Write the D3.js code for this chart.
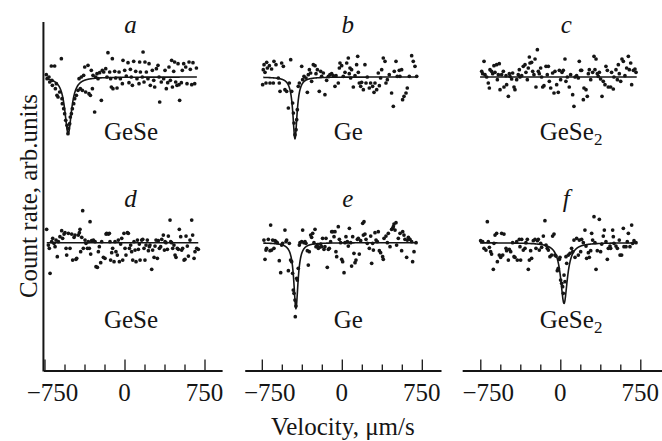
<!DOCTYPE html>
<html>
<head>
<meta charset="utf-8">
<script src="https://cdn.jsdelivr.net/npm/d3@7"></script>
<style>
  html, body { margin: 0; padding: 0; background: #fff; }
  svg text { font-family: "Liberation Serif", "Times New Roman", serif; fill: #151515; }
</style>
</head>
<body>
<div id="chart"></div>
<script>
// Spectra: [velocity (um/s), count rate (arb. units, fit baseline = 1000)]
const spectrumA = [[-733,1007],[-726,995],[-708,1000],[-701,985],[-686,1033],[-680,990],[-676,975],[-655,1033],[-648,965],[-639,980],[-633,945],[-623,940],[-608,955],[-592,1055],[-586,935],[-583,920],[-570,905],[-561,890],[-551,870],[-539,855],[-530,830],[-526,845],[-514,860],[-508,880],[-498,890],[-489,905],[-476,920],[-467,935],[-451,945],[-436,960],[-426,995],[-414,965],[-405,1000],[-395,960],[-383,1005],[-373,1030],[-364,955],[-342,1035],[-333,950],[-320,945],[-311,1020],[-301,965],[-295,1005],[-280,895],[-270,1000],[-258,1010],[-248,995],[-233,1013],[-217,930],[-208,1020],[-195,1015],[-176,1025],[-164,1000],[-155,1073],[-139,1015],[-130,995],[-123,970],[-114,1055],[-108,965],[-92,1017],[-83,997],[-70,967],[-51,1015],[-39,995],[-20,980],[-14,1050],[2,1020],[17,1003],[33,1043],[42,983],[55,1023],[64,1000],[74,975],[86,1047],[105,1017],[117,995],[136,980],[142,1045],[149,1015],[167,1000],[174,1075],[183,985],[192,1045],[205,1015],[220,995],[230,1040],[242,975],[261,1020],[274,990],[283,970],[299,1025],[314,1035],[324,1000],[330,925],[345,985],[367,995],[380,1020],[392,965],[405,983],[417,1030],[430,990],[442,1050],[449,970],[461,1017],[470,1045],[480,985],[492,975],[502,1040],[511,977],[517,930],[533,983],[542,1020],[555,1040],[574,1030],[586,980],[605,1045],[617,1023],[630,977],[642,1043],[658,980],[674,1027]];

const spectrumB = [[-742,977],[-736,1022],[-729,1037],[-720,1014],[-711,982],[-704,1044],[-698,1027],[-679,1034],[-673,982],[-658,1024],[-642,982],[-636,1047],[-617,1037],[-595,997],[-586,982],[-579,957],[-564,1042],[-548,1032],[-533,962],[-517,957],[-501,907],[-492,982],[-479,1052],[-470,957],[-461,922],[-454,892],[-448,862],[-439,827],[-429,842],[-423,872],[-417,902],[-408,972],[-398,982],[-376,1032],[-367,992],[-354,1002],[-336,997],[-323,954],[-314,1007],[-304,1022],[-292,1012],[-283,987],[-267,1037],[-251,1034],[-242,1010],[-229,1022],[-211,957],[-198,1017],[-189,1002],[-173,1012],[-158,947],[-142,990],[-126,1002],[-111,1007],[-95,1010],[-80,1004],[-64,972],[-54,1004],[-33,982],[-23,1027],[-17,1042],[-1,1034],[14,1002],[30,1014],[46,1042],[61,1057],[70,1010],[77,1027],[83,997],[92,1022],[108,970],[124,1004],[139,1037],[149,1062],[155,1014],[164,982],[177,972],[186,984],[202,962],[217,1037],[227,982],[239,1000],[258,967],[270,982],[289,972],[302,954],[311,982],[327,962],[342,1012],[352,974],[364,997],[374,1022],[389,1057],[405,1047],[414,982],[427,992],[445,1007],[467,952],[483,912],[492,1017],[508,1047],[520,1002],[539,1020],[545,1002],[561,1022],[570,932],[583,942],[602,952],[614,967],[633,1002],[655,1064],[670,1047],[686,1032],[702,1002]];

const spectrumC = [[-737,1017],[-728,1010],[-715,1047],[-706,1007],[-690,1000],[-675,982],[-665,967],[-659,1022],[-644,1017],[-634,1010],[-622,1034],[-612,1014],[-597,1037],[-590,992],[-581,1007],[-572,1040],[-565,962],[-550,1007],[-534,1017],[-528,970],[-509,1004],[-503,977],[-487,942],[-478,1010],[-472,1002],[-456,994],[-447,1012],[-434,970],[-425,962],[-409,992],[-394,1007],[-384,1022],[-378,1000],[-362,1004],[-347,1032],[-331,1037],[-322,1014],[-309,992],[-300,1027],[-290,1060],[-284,1042],[-269,1044],[-259,1017],[-247,1007],[-237,1054],[-228,970],[-215,1082],[-206,1017],[-197,1010],[-184,1027],[-175,1000],[-165,970],[-153,974],[-134,1032],[-122,1007],[-112,1032],[-103,987],[-90,967],[-72,1012],[-59,952],[-50,1017],[-34,977],[-19,954],[-9,1020],[3,992],[16,1014],[28,1020],[44,1054],[53,987],[66,1000],[84,970],[97,1007],[116,947],[128,912],[138,1000],[153,1004],[169,997],[178,1047],[191,1020],[200,1020],[216,932],[222,967],[241,962],[253,942],[263,1010],[272,1022],[285,992],[303,1014],[316,1062],[325,1022],[335,1054],[347,1010],[356,1002],[366,1014],[378,994],[391,942],[403,987],[419,977],[428,1032],[441,1020],[450,970],[472,970],[481,1014],[497,964],[503,1000],[522,1022],[535,992],[544,1037],[553,1010],[566,987],[578,1054],[591,1047],[606,1004],[622,1027],[638,1062],[647,1022],[660,1042],[669,977],[685,1020],[700,1024],[710,1014]];

const spectrumD = [[-730,1040],[-714,993],[-705,983],[-698,908],[-683,1003],[-673,1013],[-661,998],[-651,988],[-642,1008],[-630,958],[-620,1003],[-605,1018],[-589,1036],[-580,1013],[-567,1026],[-558,1030],[-548,983],[-542,963],[-526,1028],[-511,983],[-495,1026],[-486,948],[-473,1016],[-464,1023],[-455,950],[-448,953],[-433,1023],[-423,1030],[-417,1040],[-411,973],[-401,1016],[-392,1096],[-386,983],[-370,1008],[-361,998],[-348,983],[-339,1003],[-330,983],[-323,1063],[-317,966],[-308,1006],[-292,1008],[-276,1003],[-267,928],[-254,926],[-245,973],[-236,988],[-223,940],[-214,1003],[-198,956],[-183,953],[-173,1026],[-167,1028],[-151,1026],[-142,1028],[-136,1003],[-130,948],[-120,970],[-111,983],[-98,943],[-89,1003],[-80,973],[-67,963],[-58,1008],[-48,943],[-36,996],[-26,1013],[-17,948],[-5,1028],[5,983],[14,963],[27,1030],[36,1028],[46,983],[58,993],[67,973],[77,948],[89,1003],[99,978],[108,943],[121,1008],[130,980],[139,996],[146,948],[161,1008],[171,1010],[183,983],[192,948],[202,993],[214,1008],[224,976],[233,988],[239,993],[255,920],[264,978],[277,956],[286,990],[296,1008],[308,953],[317,1006],[327,983],[339,988],[349,1010],[364,1023],[374,978],[380,1003],[389,1000],[402,980],[411,1020],[427,1068],[433,1003],[442,1000],[452,983],[464,993],[474,963],[483,956],[495,983],[505,980],[514,1040],[527,1018],[536,978],[545,983],[558,948],[567,950],[577,1020],[589,990],[599,960],[614,1008],[630,1068],[639,1023],[652,953],[661,973],[677,983],[692,980]];

const spectrumE = [[-730,1008],[-720,950],[-711,978],[-705,983],[-689,1010],[-673,976],[-667,1053],[-658,978],[-648,1008],[-636,983],[-626,1006],[-617,1003],[-605,1000],[-586,946],[-573,910],[-564,993],[-555,998],[-533,1038],[-523,1003],[-517,1008],[-501,916],[-492,998],[-480,948],[-470,943],[-461,908],[-455,858],[-448,848],[-439,828],[-436,778],[-430,810],[-423,893],[-417,888],[-408,923],[-398,993],[-392,1000],[-376,1003],[-367,1038],[-355,1000],[-345,1003],[-336,998],[-323,976],[-314,933],[-305,973],[-292,1023],[-283,1016],[-273,1028],[-261,1000],[-251,1040],[-242,988],[-230,993],[-220,983],[-211,986],[-198,996],[-189,988],[-180,1013],[-167,980],[-158,988],[-148,1013],[-136,926],[-126,980],[-117,983],[-105,1003],[-95,1033],[-86,1033],[-73,1018],[-64,1033],[-55,973],[-48,958],[-33,1048],[-23,1010],[-11,1000],[-1,950],[8,943],[21,910],[30,1000],[39,1018],[52,1003],[61,990],[71,1043],[83,1000],[92,930],[102,1018],[114,968],[124,940],[133,948],[146,1010],[155,1013],[164,966],[177,1006],[196,1058],[202,1023],[208,1063],[217,1026],[227,1010],[239,998],[258,983],[271,1020],[280,938],[289,998],[296,978],[311,1030],[321,1008],[333,1003],[342,1033],[352,976],[364,970],[383,958],[389,950],[396,1013],[414,1020],[427,1000],[436,1028],[452,988],[467,1040],[477,1043],[483,1048],[489,1056],[499,1038],[508,1060],[514,993],[530,1013],[546,1028],[561,976],[571,1033],[583,1023],[592,1010],[608,956],[614,1008],[624,1016],[639,1010],[655,1003],[664,943],[677,973],[696,1000]];

const spectrumF = [[-747,1006],[-728,1003],[-715,983],[-697,978],[-684,1063],[-675,1003],[-665,986],[-653,973],[-644,966],[-628,920],[-622,998],[-612,1023],[-597,1028],[-590,943],[-572,963],[-559,956],[-550,1028],[-540,963],[-528,1026],[-509,983],[-503,976],[-487,948],[-478,980],[-465,973],[-447,1000],[-434,958],[-425,956],[-409,1003],[-403,948],[-384,1010],[-378,988],[-372,948],[-362,1010],[-347,978],[-331,983],[-322,1000],[-309,1010],[-300,920],[-290,948],[-278,976],[-269,953],[-253,1006],[-237,1010],[-228,983],[-215,1006],[-206,1010],[-197,978],[-184,998],[-175,986],[-159,1020],[-144,1066],[-134,993],[-122,983],[-112,978],[-97,958],[-81,963],[-72,1020],[-59,1026],[-50,963],[-40,960],[-28,916],[-19,923],[-9,950],[-3,956],[3,888],[13,878],[22,868],[28,848],[35,903],[44,883],[53,958],[60,938],[75,963],[91,968],[106,983],[116,973],[128,1008],[138,956],[153,1013],[169,963],[178,1008],[191,973],[200,1010],[216,1000],[231,1038],[241,990],[247,953],[263,970],[272,956],[285,976],[294,1028],[303,1008],[316,1078],[325,1000],[335,920],[347,976],[366,1070],[378,973],[388,996],[403,1020],[413,1038],[428,1003],[441,950],[450,983],[466,990],[472,983],[491,1038],[497,1018],[503,998],[522,990],[535,983],[553,1008],[560,963],[575,963],[591,1043],[597,988],[616,988],[628,1003],[638,1028],[653,988],[669,1053],[678,998],[691,1006],[710,1000]];

const spectra = [spectrumA, spectrumB, spectrumC, spectrumD, spectrumE, spectrumF];
const panelLetters = ["a", "b", "c", "d", "e", "f"];
const compounds = ["GeSe", "Ge", "GeSe2", "GeSe", "Ge", "GeSe2"];

// Lorentzian fit lines: centre, depth, half width (um/s), drawn velocity span
const fitCenter = [-528, -439, 0, 0, -430, 35];
const fitDepth = [170, 185, 0, 0, 197, 182];
const fitHalfWidth = [38, 24, 1, 1, 24, 38];
const fitSpan = [[-730, 678], [-736, 702], [-752, 716], [-729, 692], [-736, 708], [-752, 716]];

const majorTicks = [-750, 0, 750];
const minorTicks = [-562.5, -375, -187.5, 187.5, 375, 562.5];
const axisExtent = [[-760, 915], [-910, 930], [-920, 965]];

const width = 662, height = 441;
const colZero = [124.5, 341.8, 560.3];
const pxPerUnit = 80 / 750;
const rowBase = [77, 242.7];
const axisY = 370.5;
const fontSize = 25;
const ink = "#151515";

const svg = d3.select("#chart").append("svg")
    .attr("width", width).attr("height", height)
    .attr("viewBox", `0 0 ${width} ${height}`);

const colScale = axisExtent.map((ext, i) => d3.scaleLinear()
    .domain(ext)
    .range(ext.map(v => colZero[i] + v * pxPerUnit)));

// y axis
svg.append("line")
    .attr("x1", colScale[0](-760)).attr("x2", colScale[0](-760))
    .attr("y1", 22).attr("y2", axisY + 1)
    .style("stroke", ink).style("stroke-width", 2);

svg.append("text")
    .attr("transform", `translate(36.5, 196) rotate(-90)`)
    .attr("text-anchor", "middle")
    .attr("font-size", fontSize)
    .text("Count rate, arb.units");

// x axes
colScale.forEach((x, i) => {
    const g = svg.append("g").attr("transform", `translate(0,${axisY})`);
    g.call(d3.axisTop(x).tickValues(minorTicks).tickSize(6).tickSizeOuter(0).tickFormat(""));
    g.select(".domain").style("stroke", ink).style("stroke-width", 2);
    g.selectAll(".tick line").style("stroke", ink).style("stroke-width", 1.3);

    const gm = svg.append("g").attr("transform", `translate(0,${axisY})`);
    gm.call(d3.axisTop(x).tickValues(majorTicks).tickSize(11).tickSizeOuter(0).tickFormat(""));
    gm.select(".domain").remove();
    gm.selectAll(".tick line").style("stroke", ink).style("stroke-width", 1.3);

    svg.selectAll(null)
        .data(majorTicks).join("text")
        .attr("x", d => x(d) + (d < 0 ? 8 : 0))
        .attr("y", 401)
        .attr("text-anchor", "middle")
        .attr("font-size", fontSize)
        .text(d => d < 0 ? "\u2212" + Math.abs(d) : d);
});

svg.append("text")
    .attr("x", colZero[1] + 1).attr("y", 435)
    .attr("text-anchor", "middle")
    .attr("font-size", fontSize)
    .text("Velocity, \u03BCm/s");

// panels
const titleY = [33, 207];
const labelY = [140, 328];

spectra.forEach((data, p) => {
    const row = Math.floor(p / 3), col = p % 3;
    const x = colScale[col];
    const y = d3.scaleLinear().domain([1000, 1100]).range([rowBase[row], rowBase[row] - 100 / 3]);

    const g = svg.append("g").attr("class", "panel");

    const span = d3.range(fitSpan[p][0], fitSpan[p][1] + 1, 1.5);
    const fit = v => 1000 - fitDepth[p] / (1 + Math.pow((v - fitCenter[p]) / fitHalfWidth[p], 2));
    g.append("path")
        .datum(span)
        .attr("d", d3.line().x(v => x(v)).y(v => y(fit(v))))
        .style("fill", "none")
        .style("stroke", ink)
        .style("stroke-width", 1.6);

    g.selectAll(".pt")
        .data(data).join("circle")
        .attr("class", "pt")
        .attr("cx", d => x(d[0]))
        .attr("cy", d => y(d[1]))
        .attr("r", 1.85)
        .style("fill", ink);

    g.append("text")
        .attr("x", colZero[col] + 6).attr("y", titleY[row])
        .attr("text-anchor", "middle")
        .attr("font-size", fontSize)
        .attr("font-style", "italic")
        .text(panelLetters[p]);

    const lab = g.append("text")
        .attr("y", labelY[row])
        .attr("font-size", fontSize);
    const m = compounds[p].match(/^(\D+)(\d*)$/);
    lab.append("tspan").text(m[1]);
    if (m[2]) lab.append("tspan").attr("font-size", 17).attr("dy", 5).text(m[2]);
    // centre on the letters, the subscript hangs to the right
    const base = lab.select("tspan").node().getComputedTextLength();
    lab.attr("x", colZero[col] + 6.5 - base / 2);
});
</script>
</body>
</html>
